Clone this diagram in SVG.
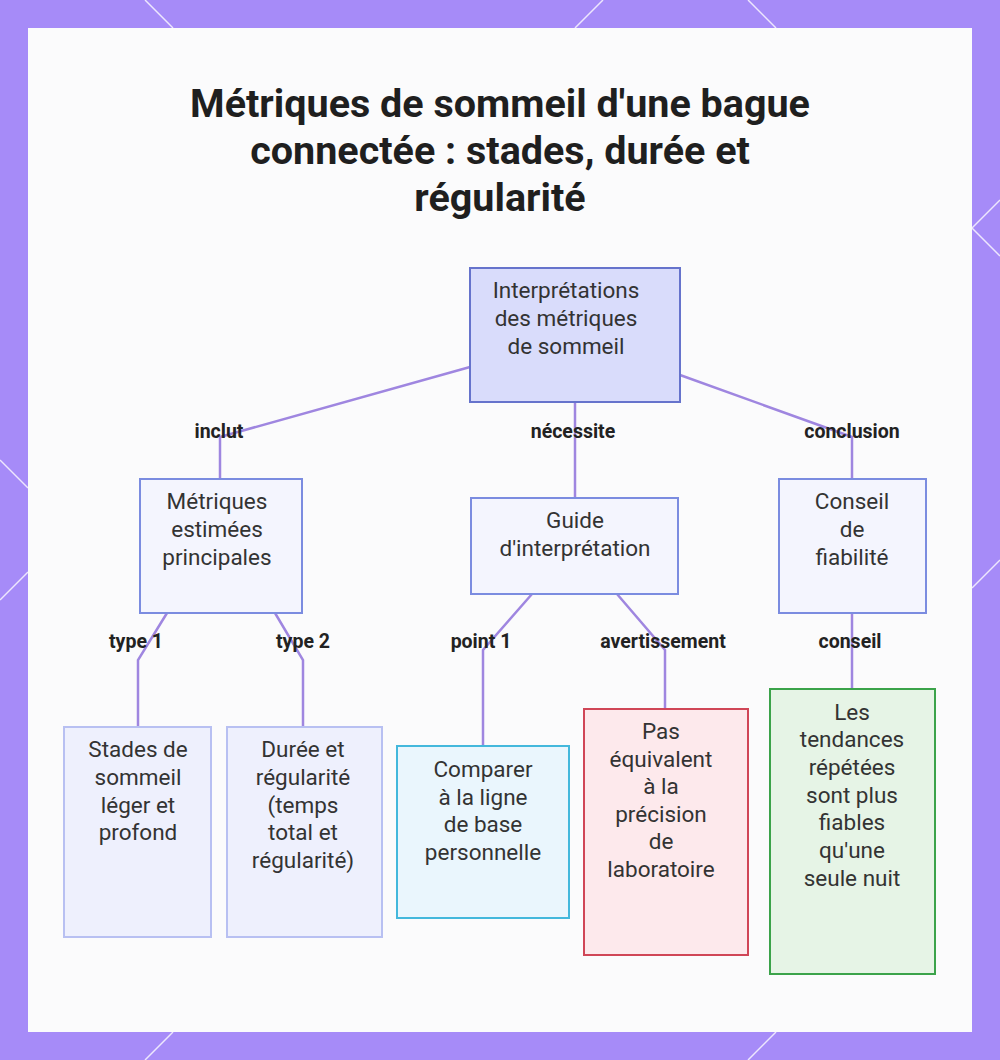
<svg xmlns="http://www.w3.org/2000/svg" width="1000" height="1060" viewBox="0 0 1000 1060">
<style>
.t{font-family:Roboto,"Liberation Sans",sans-serif;font-size:22.5px;fill:#333;text-anchor:middle}
.l{font-family:Roboto,"Liberation Sans",sans-serif;font-size:19.5px;font-weight:bold;fill:#222;text-anchor:middle}
.h{font-family:Roboto,"Liberation Sans",sans-serif;font-size:39.5px;font-weight:bold;fill:#1f1f1f;text-anchor:middle}
.c{fill:none;stroke:#9F86E0;stroke-width:2.5}
.d{stroke:#fff;stroke-width:1.5;opacity:.8}
</style>
<rect width="1000" height="1060" fill="#A68BF8"/>
<g class="d">
<line x1="145" y1="0" x2="173" y2="28"/><line x1="603" y1="0" x2="575" y2="28"/><line x1="748" y1="0" x2="776" y2="28"/>
<line x1="1000" y1="200" x2="972" y2="228"/><line x1="972" y1="228" x2="1000" y2="256"/>
<line x1="0" y1="460" x2="28" y2="488"/><line x1="0" y1="600" x2="28" y2="572"/><line x1="1000" y1="560" x2="972" y2="588"/>
<line x1="145" y1="1060" x2="173" y2="1032"/><line x1="748" y1="1060" x2="776" y2="1032"/>
</g>
<rect x="28" y="28" width="944" height="1004" fill="#FBFBFC"/>
<text class="h" x="500" y="117">Métriques de sommeil d'une bague</text>
<text class="h" x="500" y="164">connectée : stades, durée et</text>
<text class="h" x="500" y="211">régularité</text>
<g id="connectors">
<polyline class="c" points="470,367 220,437 220,479"/>
<polyline class="c" points="575,402 575,498"/>
<polyline class="c" points="680,375 852,437 852,479"/>
<polyline class="c" points="167,613 138,660 138,727"/>
<polyline class="c" points="275,613 303,660 303,727"/>
<polyline class="c" points="532,594 483,650 483,746"/>
<polyline class="c" points="617,594 665,650 665,709"/>
<polyline class="c" points="852,613 852,689"/>
<text class="l" x="219" y="438">inclut</text>
<text class="l" x="573" y="438">nécessite</text>
<text class="l" x="852" y="438">conclusion</text>
<text class="l" x="136" y="648">type 1</text>
<text class="l" x="303" y="648">type 2</text>
<text class="l" x="481" y="648">point 1</text>
<text class="l" x="663" y="648">avertissement</text>
<text class="l" x="850" y="648">conseil</text>
</g>
<g id="root"><rect x="470" y="268" width="210" height="134" fill="#D9DCFB" stroke="#6673CC" stroke-width="2"/>
<text class="t" x="566" y="298">Interprétations</text><text class="t" x="566" y="326">des métriques</text><text class="t" x="566" y="354">de sommeil</text></g>
<g id="metriques"><rect x="140" y="479" width="162" height="134" fill="#F4F5FE" stroke="#7B8CE0" stroke-width="2"/>
<text class="t" x="217" y="509">Métriques</text><text class="t" x="217" y="537">estimées</text><text class="t" x="217" y="565">principales</text></g>
<g id="guide"><rect x="471" y="498" width="207" height="96" fill="#F4F5FE" stroke="#7B8CE0" stroke-width="2"/>
<text class="t" x="575" y="528">Guide</text><text class="t" x="575" y="556">d'interprétation</text></g>
<g id="conseil"><rect x="779" y="479" width="147" height="134" fill="#F4F5FE" stroke="#7B8CE0" stroke-width="2"/>
<text class="t" x="852" y="509">Conseil</text><text class="t" x="852" y="537">de</text><text class="t" x="852" y="565">fiabilité</text></g>
<g id="stades"><rect x="64" y="727" width="147" height="210" fill="#EEF0FD" stroke="#B8C0F2" stroke-width="2"/>
<text class="t" x="138" y="757">Stades de</text><text class="t" x="138" y="785">sommeil</text><text class="t" x="138" y="813">léger et</text><text class="t" x="138" y="840">profond</text></g>
<g id="duree"><rect x="227" y="727" width="155" height="210" fill="#EEF0FD" stroke="#B8C0F2" stroke-width="2"/>
<text class="t" x="303" y="757">Durée et</text><text class="t" x="303" y="785">régularité</text><text class="t" x="303" y="813">(temps</text><text class="t" x="303" y="840">total et</text><text class="t" x="303" y="868">régularité)</text></g>
<g id="comparer"><rect x="397" y="746" width="172" height="172" fill="#EAF6FD" stroke="#44B8DC" stroke-width="2"/>
<text class="t" x="483" y="777">Comparer</text><text class="t" x="483" y="805">à la ligne</text><text class="t" x="483" y="832">de base</text><text class="t" x="483" y="860">personnelle</text></g>
<g id="pas"><rect x="584" y="709" width="164" height="246" fill="#FDE9EC" stroke="#D04657" stroke-width="2"/>
<text class="t" x="661" y="739">Pas</text><text class="t" x="661" y="767">équivalent</text><text class="t" x="661" y="794">à la</text><text class="t" x="661" y="822">précision</text><text class="t" x="661" y="849">de</text><text class="t" x="661" y="877">laboratoire</text></g>
<g id="les"><rect x="770" y="689" width="165" height="285" fill="#E6F4E6" stroke="#3BA34A" stroke-width="2"/>
<text class="t" x="852" y="720">Les</text><text class="t" x="852" y="747">tendances</text><text class="t" x="852" y="775">répétées</text><text class="t" x="852" y="803">sont plus</text><text class="t" x="852" y="830">fiables</text><text class="t" x="852" y="858">qu'une</text><text class="t" x="852" y="886">seule nuit</text></g>
</svg>
